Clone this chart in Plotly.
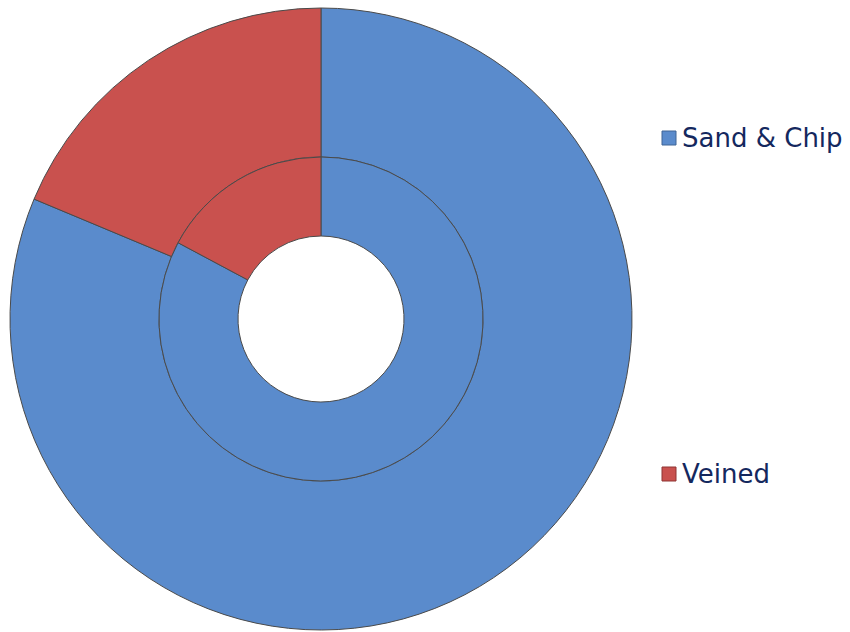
import plotly.graph_objects as go

categories = ["Sand & Chip", "Veined"]
outer_values = [81.3, 18.7]
inner_values = [82.8, 17.2]
colors = ["#5A8BCC", "#C9514E"]
line_colors = ["#3E6496", "#8E3432"]

W, H = 850, 632
cx, cy = 321, 319
R_out, R_in, R_hole = 311, 162, 83


def dom(r):
    return dict(x=[(cx - r) / W, (cx + r) / W], y=[1 - (cy + r) / H, 1 - (cy - r) / H])


fig = go.Figure()
fig.add_trace(go.Pie(
    labels=categories, values=outer_values, domain=dom(R_out), hole=R_in / R_out,
    sort=False, direction="clockwise", rotation=0, textinfo="none", hoverinfo="label+value",
    marker=dict(colors=colors, line=dict(color="#4a4a4a", width=1)), showlegend=False,
))
fig.add_trace(go.Pie(
    labels=categories, values=inner_values, domain=dom(R_in), hole=R_hole / R_in,
    sort=False, direction="clockwise", rotation=0, textinfo="none", hoverinfo="label+value",
    marker=dict(colors=colors, line=dict(color="#4a4a4a", width=1)), showlegend=False,
))

legend_y = [138, 474]
for i, name in enumerate(categories):
    y = legend_y[i]
    fig.add_shape(type="rect", xref="paper", yref="paper",
                  x0=662 / W, x1=676 / W, y0=1 - (y + 7) / H, y1=1 - (y - 7) / H,
                  fillcolor=colors[i], line=dict(color=line_colors[i], width=1))
    fig.add_annotation(x=680 / W, y=1 - y / H, xref="paper", yref="paper",
                       text=name, showarrow=False, xanchor="left", yanchor="middle",
                       font=dict(family="DejaVu Sans, Verdana", size=26, color="#14285E"))

fig.update_layout(width=W, height=H, margin=dict(l=0, r=0, t=0, b=0),
                  paper_bgcolor="white", plot_bgcolor="white", showlegend=False)
fig.write_html("out.html")
